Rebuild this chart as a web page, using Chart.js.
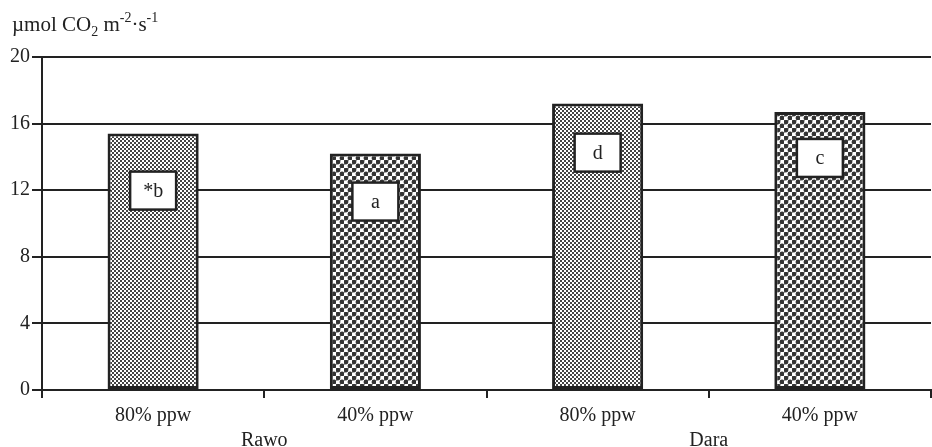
<!DOCTYPE html>
<html>
<head>
<meta charset="utf-8">
<script src="https://cdn.jsdelivr.net/npm/chart.js@4.4.1/dist/chart.umd.min.js"></script>
<style>
  body { margin: 0; background: #fff; }
  canvas { display: block; }
</style>
</head>
<body>
<canvas id="co2Chart" width="932" height="447"></canvas>
<script>
// Chart data
const categories = ['80% ppw', '40% ppw', '80% ppw', '40% ppw'];
const groupLabels = ['Rawo', 'Dara'];
const values = [15.4, 14.2, 17.2, 16.7];
const letters = ['*b', 'a', 'd', 'c'];
const yTicks = [0, 4, 8, 12, 16, 20];

const SERIF = '"Liberation Serif", "Times New Roman", serif';
const INK = '#222';

// Fine checkerboard fill (80% ppw)
function checkerPattern() {
    const tile = document.createElement('canvas');
    tile.width = 4; tile.height = 4;
    const t = tile.getContext('2d');
    t.fillStyle = '#fff';
    t.fillRect(0, 0, 4, 4);
    t.fillStyle = '#444';
    t.fillRect(0, 0, 2, 2);
    t.fillRect(2, 2, 2, 2);
    return t.createPattern(tile, 'repeat');
}

// Coarser dotted fill (40% ppw)
function dotPattern() {
    const tile = document.createElement('canvas');
    tile.width = 8; tile.height = 8;
    const t = tile.getContext('2d');
    t.fillStyle = '#fff';
    t.fillRect(0, 0, 8, 8);
    t.fillStyle = '#333';
    [[2, 2], [6, 6]].forEach(([cx, cy]) => {
        t.beginPath();
        t.arc(cx, cy, 2.4, 0, Math.PI * 2);
        t.fill();
    });
    t.fillStyle = '#999';
    t.fillRect(4, 0, 1, 1);
    t.fillRect(0, 4, 1, 1);
    return t.createPattern(tile, 'repeat');
}

const fills = [checkerPattern(), dotPattern(), checkerPattern(), dotPattern()];

// Axis unit drawn above the y axis, with sub/superscripts
const unitTitle = {
    id: 'unitTitle',
    afterDraw(chart) {
        const ctx = chart.ctx;
        const parts = [
            ['\u00b5mol CO', 21, 0],
            ['2', 14, 5],
            [' m', 21, 0],
            ['-2', 14, -9],
            ['\u00b7s', 21, 0],
            ['-1', 14, -9]
        ];
        let x = 12;
        const base = 31;
        ctx.save();
        ctx.fillStyle = INK;
        ctx.textBaseline = 'alphabetic';
        parts.forEach(([txt, size, dy]) => {
            ctx.font = size + 'px ' + SERIF;
            ctx.fillText(txt, x, base + dy);
            x += ctx.measureText(txt).width;
        });
        ctx.restore();
    }
};

// White boxes with the significance letters inside each bar
const letterBoxes = {
    id: 'letterBoxes',
    afterDatasetsDraw(chart, args, opts) {
        const ctx = chart.ctx;
        const meta = chart.getDatasetMeta(0);
        ctx.save();
        meta.data.forEach((bar, i) => {
            const cx = bar.x;
            const cy = bar.y + opts.offsets[i];
            const w = opts.width, h = opts.height;
            ctx.fillStyle = '#fff';
            ctx.fillRect(cx - w / 2, cy - h / 2, w, h);
            ctx.strokeStyle = INK;
            ctx.lineWidth = 2.5;
            ctx.strokeRect(cx - w / 2, cy - h / 2, w, h);
            ctx.fillStyle = INK;
            ctx.font = '20px ' + SERIF;
            ctx.textAlign = 'center';
            ctx.textBaseline = 'middle';
            ctx.fillText(letters[i], cx, cy + 1);
        });
        ctx.restore();
    }
};

new Chart(document.getElementById('co2Chart'), {
    type: 'bar',
    data: {
        labels: categories,
        datasets: [{
            data: values,
            backgroundColor: fills,
            borderColor: INK,
            borderWidth: 3,
            borderSkipped: false,
            categoryPercentage: 1,
            barPercentage: 0.41
        }]
    },
    options: {
        responsive: false,
        animation: false,
        layout: { padding: { top: 57, right: 1, left: 0, bottom: 0 } },
        plugins: {
            legend: { display: false },
            tooltip: { enabled: false },
            letterBoxes: { offsets: [57, 48, 49, 46], width: 46, height: 38 }
        },
        scales: {
            x: {
                offset: true,
                grid: { offset: true, drawOnChartArea: false, drawTicks: true, tickLength: 8, color: INK, lineWidth: 2 },
                border: { display: true, color: INK, width: 2 },
                ticks: { color: INK, font: { family: SERIF, size: 20 }, padding: 6, maxRotation: 0 },
                afterFit(scale) { scale.height = 37; }
            },
            x2: {
                type: 'category',
                labels: groupLabels,
                position: 'bottom',
                offset: true,
                grid: { display: false, drawTicks: false },
                border: { display: false },
                ticks: { color: INK, font: { family: SERIF, size: 20 }, padding: 2, maxRotation: 0 },
                afterFit(scale) { scale.height = 20; }
            },
            y: {
                min: 0,
                max: 20,
                afterBuildTicks(scale) { scale.ticks = yTicks.map(v => ({ value: v })); },
                grid: { color: INK, lineWidth: 2, drawTicks: true, tickLength: 10 },
                border: { color: INK, width: 2 },
                ticks: { color: INK, font: { family: SERIF, size: 20 }, padding: 2 },
                afterFit(scale) { scale.width = 42; }
            }
        }
    },
    plugins: [unitTitle, letterBoxes]
});
</script>
</body>
</html>
